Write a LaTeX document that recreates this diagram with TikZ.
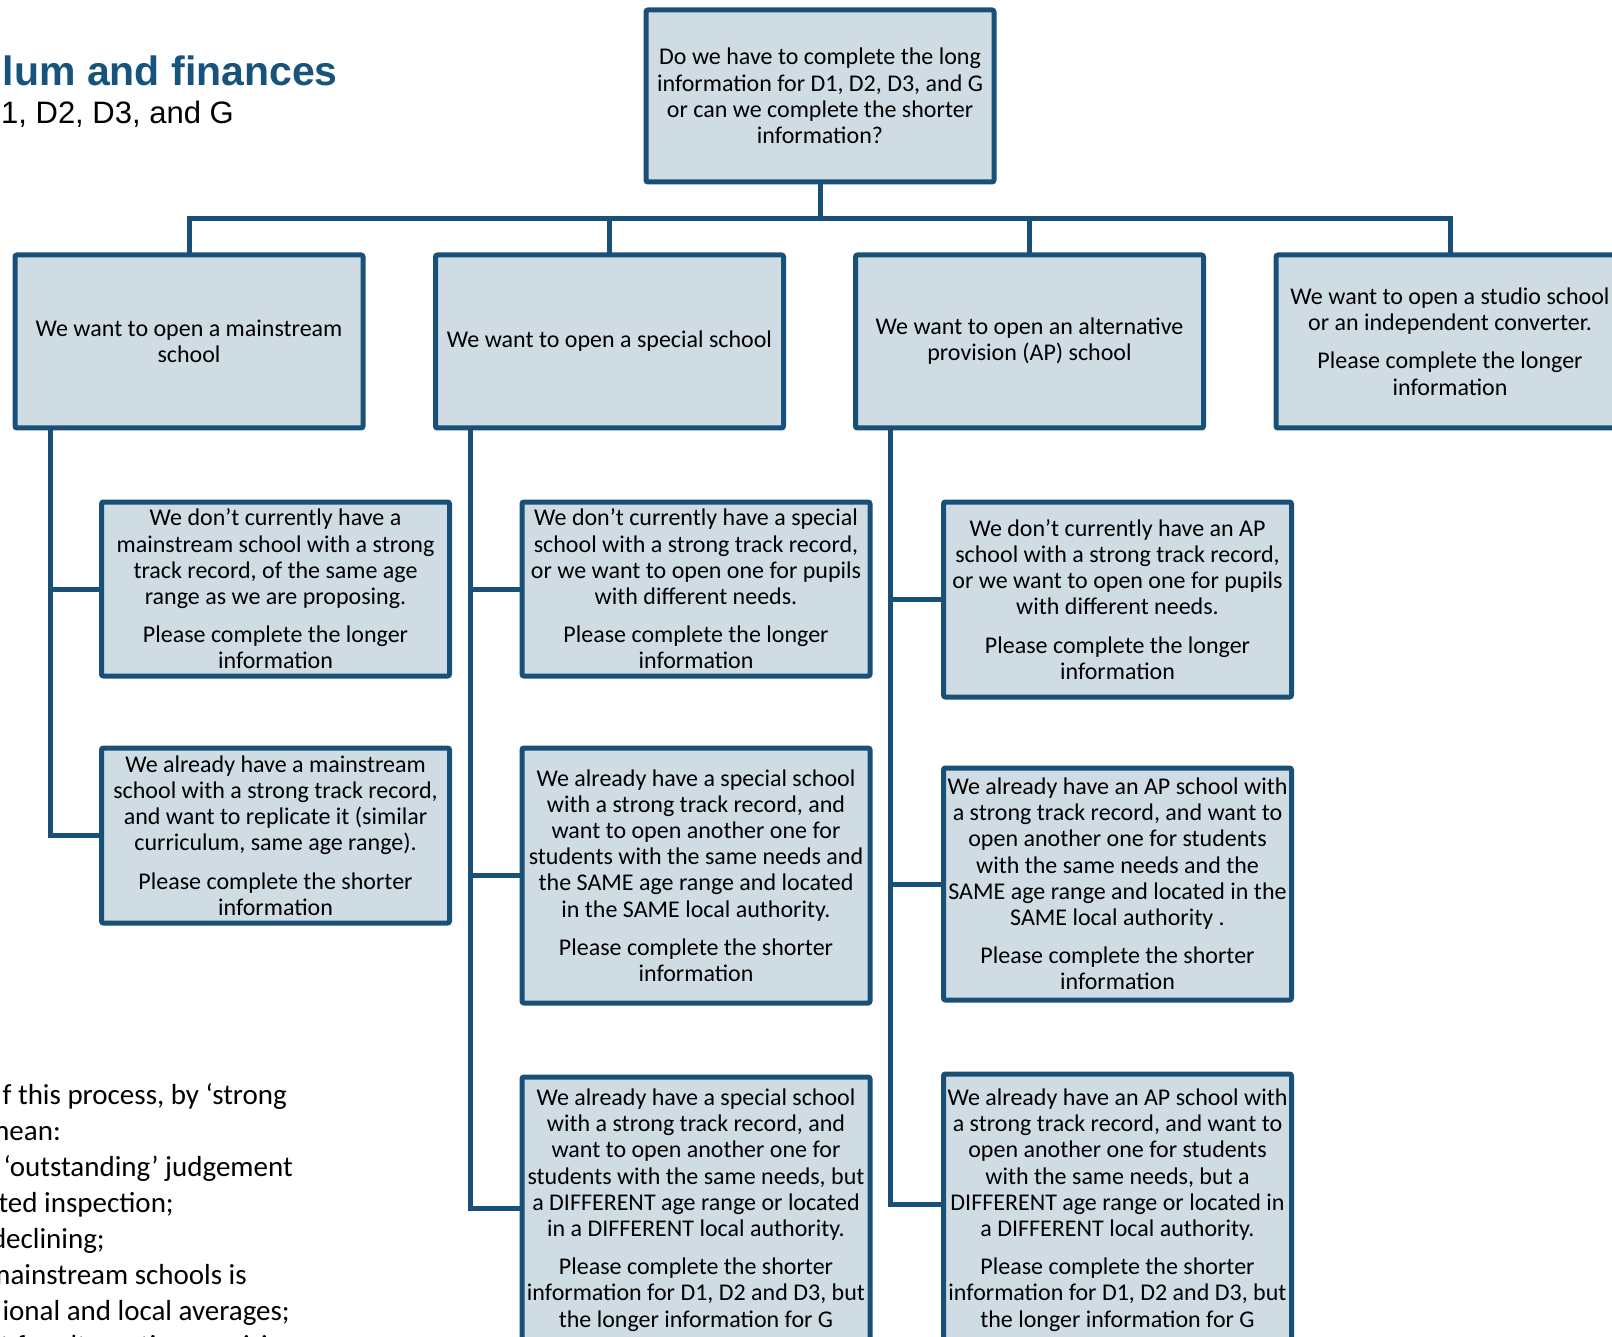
\documentclass[tikz,border=0pt]{standalone}
\usepackage{fontspec}
\setmainfont{Carlito}
\newfontfamily\arialfont{Liberation Sans}
\definecolor{bdr}{RGB}{24,80,120}
\definecolor{fil}{RGB}{207,220,228}
\definecolor{ttl}{RGB}{22,84,125}
\begin{document}
\begin{tikzpicture}[x=1pt,y=-1pt,
  box/.style={draw=bdr, fill=fil, line width=5pt, rounded corners=2pt,
    minimum width=348pt, align=center, inner sep=0pt, outer sep=0pt,
    font=\fontsize{24}{26.2}\selectfont},
  link/.style={draw=bdr, line width=5pt},
  note/.style={inner sep=0pt, anchor=base east, font=\fontsize{29}{35.7}\selectfont}]
\useasboundingbox (0,0) rectangle (1612,1337);

% title
\node[inner sep=0pt, anchor=base east, text=ttl, font=\arialfont\bfseries\fontsize{41}{48}\selectfont] (title) at (338,86) {lum and finances};
\node[inner sep=0pt, anchor=base east, font=\arialfont\fontsize{31}{36}\selectfont] (subtitle) at (234,124) {1, D2, D3, and G};

% top question
\node[box, minimum height=172pt] (top) at (820,96) {Do we have to complete the long\\information for D1, D2, D3, and G\\or can we complete the shorter\\information?};

% level 2
\node[box, minimum height=173pt] (b1) at (189,341.5) {We want to open a mainstream\\school};
\node[box, minimum height=173pt] (b2) at (609.5,341.5) {We want to open a special school};
\node[box, minimum height=173pt] (b3) at (1029.5,341.5) {We want to open an alternative\\provision (AP) school};
\node[box, minimum height=173pt] (b4) at (1450,341.5) {We want to open a studio school\\or an independent converter.\\[12pt]Please complete the longer\\information};

% column 1
\node[box, minimum height=174pt] (c1a) at (275.5,589) {We don’t currently have a\\mainstream school with a strong\\track record, of the same age\\range as we are proposing.\\[12pt]Please complete the longer\\information};
\node[box, minimum height=175pt] (c1b) at (275.5,835.5) {We already have a mainstream\\school with a strong track record,\\and want to replicate it (similar\\curriculum, same age range).\\[12pt]Please complete the shorter\\information};

% column 2
\node[box, minimum height=174pt] (c2a) at (696,589) {We don’t currently have a special\\school with a strong track record,\\or we want to open one for pupils\\with different needs.\\[12pt]Please complete the longer\\information};
\node[box, minimum height=255pt] (c2b) at (696,875.5) {We already have a special school\\with a strong track record, and\\want to open another one for\\students with the same needs and\\the SAME age range and located\\in the SAME local authority.\\[12pt]Please complete the shorter\\information};
\node[box, minimum height=266pt] (c2c) at (696,1210) {We already have a special school\\with a strong track record, and\\want to open another one for\\students with the same needs, but\\a DIFFERENT age range or located\\in a DIFFERENT local authority.\\[12pt]Please complete the shorter\\information for D1, D2 and D3, but\\the longer information for G};

% column 3
\node[box, minimum height=195pt] (c3a) at (1117.5,599.5) {We don’t currently have an AP\\school with a strong track record,\\or we want to open one for pupils\\with different needs.\\[12pt]Please complete the longer\\information};
\node[box, minimum height=232pt] (c3b) at (1117.5,884) {We already have an AP school with\\a strong track record, and want to\\open another one for students\\with the same needs and the\\SAME age range and located in the\\SAME local authority .\\[12pt]Please complete the shorter\\information};
\node[box, minimum height=272pt] (c3c) at (1117.5,1210) {We already have an AP school with\\a strong track record, and want to\\open another one for students\\with the same needs, but a\\DIFFERENT age range or located in\\a DIFFERENT local authority.\\[12pt]Please complete the shorter\\information for D1, D2 and D3, but\\the longer information for G};

% connectors: bus
\coordinate (busL) at (189,218.5);
\coordinate (busR) at (1450,218.5);
\draw[link] (b1.north) -- (busL) -- (busR) -- (b4.north);
\draw[link] (top.south) -- (top.south |- busL);
\draw[link] (b2.north) -- (b2.north |- busL);
\draw[link] (b3.north) -- (b3.north |- busL);

% trunks
\draw[link] ([xshift=35pt]b1.south west) |- (c1a.west);
\draw[link] ([xshift=35pt]b1.south west) |- (c1b.west);
\draw[link] ([xshift=35pt]b2.south west) |- (c2a.west);
\draw[link] ([xshift=35pt]b2.south west) |- (c2b.west);
\draw[link] ([xshift=35pt]b2.south west) |- ([yshift=2pt]c2c.west);
\draw[link] ([xshift=35pt]b3.south west) |- (c3a.west);
\draw[link] ([xshift=35pt]b3.south west) |- (c3b.west);
\draw[link] ([xshift=35pt]b3.south west) |- ([yshift=6pt]c3c.west);

% note text at bottom left
\node[note] (n1) at (287,1104) {f this process, by ‘strong};
\node[note] (n2) at (61,1140) {mean:};
\node[note] (n3) at (293,1176) {‘outstanding’ judgement};
\node[note] (n4) at (174,1212) {ted inspection;};
\node[note] (n5) at (105,1248) {declining;};
\node[note] (n6) at (247,1284) {mainstream schools is};
\node[note] (n7) at (290,1320) {ional and local averages;};
\node[note, anchor=base west] (n8) at (0,1355) {t for alternative provision};
\end{tikzpicture}
\end{document}
